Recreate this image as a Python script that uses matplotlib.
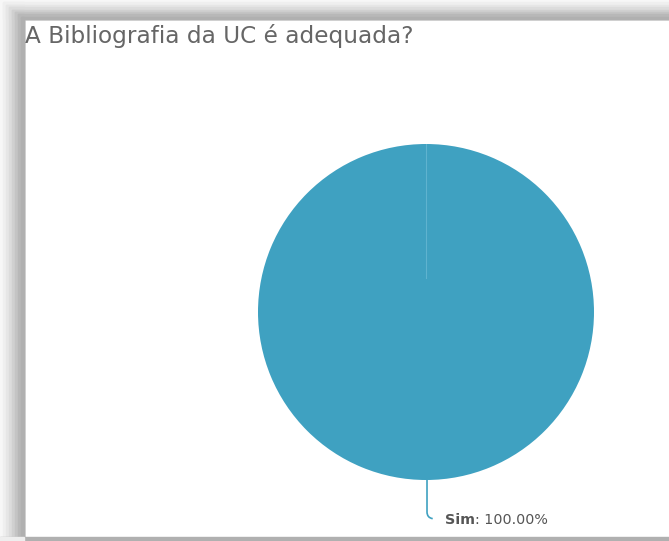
import matplotlib.pyplot as plt
from matplotlib.patches import Rectangle
from matplotlib.path import Path
from matplotlib.patches import PathPatch

# dados
categorias = ["Sim"]
valores = [100.0]
titulo = "A Bibliografia da UC é adequada?"
cor_fatia = "#3fa1c1"

W, H = 669, 541
fig = plt.figure(figsize=(W / 100, H / 100), dpi=100)
fig.patch.set_facecolor("white")

# sombra da moldura (esquerda, topo, baixo)
tons = ["#f7f7f7", "#efefef", "#e6e6e6", "#dcdcdc", "#d0d0d0", "#c4c4c4", "#b8b8b8", "#b0b0b0"]
passo = 3
for i, c in enumerate(tons):
    x0 = i * passo
    y0 = i * 2.4
    fig.patches.append(Rectangle((x0 / W, 0), (24 - x0) / W, (H - y0) / H,
                                 transform=fig.transFigure, color=c, zorder=0))
    fig.patches.append(Rectangle((x0 / W, (H - 19) / H), 1, (19 - y0) / H,
                                 transform=fig.transFigure, color=c, zorder=0))
fig.patches.append(Rectangle((0, 0), 1, 4 / H, transform=fig.transFigure,
                             color="#b0b0b0", zorder=0))
fig.patches.append(Rectangle((0, 0), 24 / W, 4 / H, transform=fig.transFigure,
                             color="#eeeeee", zorder=0))

fig.text(25 / W, 1 - 36 / H, titulo, fontsize=16.7, color="#666666",
         va="center", ha="left", family="DejaVu Sans")

# pizza
cx, cy, r = 426, 312, 168
ax = fig.add_axes([(cx - r) / W, (H - cy - r) / H, 2 * r / W, 2 * r / H])
ax.pie(valores, colors=[cor_fatia], startangle=90, counterclock=False,
       wedgeprops=dict(linewidth=0))
ax.set_xlim(-1, 1)
ax.set_ylim(-1, 1)
ax.set_aspect("equal")
ax.axis("off")

# linha da borda da fatia
ax.plot([0, 0], [0.2, 1], color="#5fb3cf", lw=0.8)

# linha guia do rótulo
verts = [(0.006, -1.0), (0.006, -1.19), (0.006, -1.225), (0.04, -1.23)]
codes = [Path.MOVETO, Path.LINETO, Path.CURVE3, Path.CURVE3]
ax.add_patch(PathPatch(Path(verts, codes), fill=False, edgecolor=cor_fatia,
                       lw=1.2, clip_on=False))

pct = f"{valores[0]:.2f}%"
t = ax.text(0.115, -1.238, categorias[0], fontsize=10.3, fontweight="bold",
            color="#555555", va="center", ha="left", clip_on=False)
ax.annotate(": " + pct, xycoords=t, xy=(1, 0.5), va="center", ha="left",
            fontsize=10.3, color="#555555", annotation_clip=False)

fig.savefig("out.png", dpi=100)
